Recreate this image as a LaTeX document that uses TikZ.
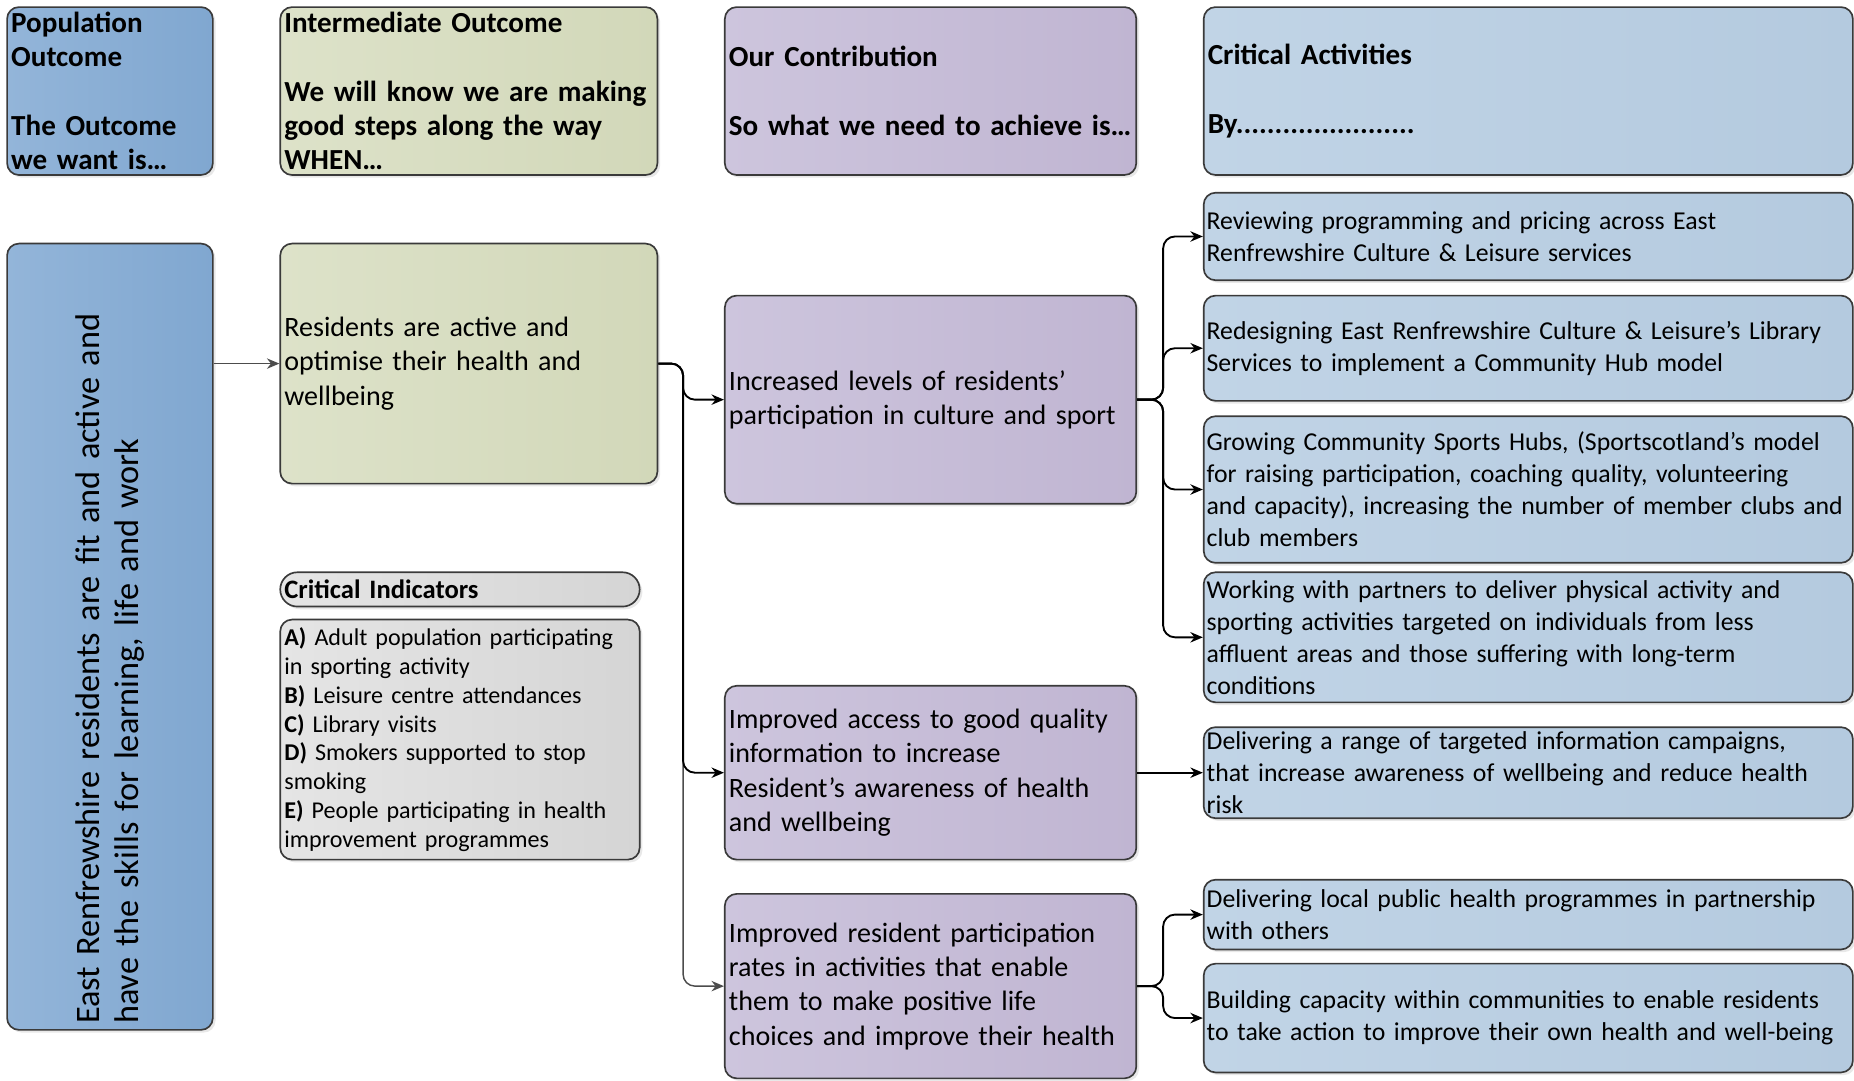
\documentclass[tikz,border=0pt]{standalone}
\usepackage{fontspec}
\setmainfont{Carlito}
\usetikzlibrary{arrows.meta,shadows}

\definecolor{popA}{HTML}{93B5D9}
\definecolor{popB}{HTML}{80A7D0}
\definecolor{intA}{HTML}{DDE2C9}
\definecolor{intB}{HTML}{D2D8B9}
\definecolor{conA}{HTML}{CDC5DD}
\definecolor{conB}{HTML}{C0B5D2}
\definecolor{actA}{HTML}{C1D4E6}
\definecolor{actB}{HTML}{B4CADF}
\definecolor{ciA}{HTML}{E5E5E5}
\definecolor{ciB}{HTML}{D5D5D5}
\definecolor{edge}{HTML}{3A3A3A}

\begin{document}
\begin{tikzpicture}[
  box/.style={draw=edge, line width=0.8pt, rounded corners=0.2cm, align=left,
    inner xsep=0.07cm, inner ysep=0pt,
    drop shadow={opacity=0.18, shadow xshift=1.3pt, shadow yshift=-1.3pt}},
  popbox/.style={box, left color=popA, right color=popB},
  intbox/.style={box, left color=intA, right color=intB},
  conbox/.style={box, left color=conA, right color=conB, text width=6.82cm},
  actbox/.style={box, left color=actA, right color=actB, inner xsep=0.05cm,
    text width=10.88cm, font=\fontsize{12.4}{15.4}\selectfont},
  cibox/.style={box, left color=ciA, right color=ciB, text width=5.94cm},
  big/.style={font=\fontsize{13.5}{16.5}\selectfont},
  hdr/.style={font=\fontsize{14}{16.5}\selectfont\bfseries, minimum height=2.84cm},
  link/.style={line width=0.9pt, rounded corners=0.2cm,
    -{Stealth[length=6pt,width=5pt]}},
  thinlink/.style={link, line width=0.7pt, black!70}
]
  \useasboundingbox (0,0) rectangle (31.36,-18.28);

  % Header row
  \node (popHead) at (1.86,-1.54) [popbox, hdr, text width=3.34cm]
    {Population\\Outcome\\[16.5pt]The Outcome\\we want is\dots};
  \node (intHead) at (7.93,-1.54) [intbox, hdr, text width=6.24cm]
    {Intermediate Outcome\\[16.5pt]We will know we are making\\good steps along the way\\WHEN\dots};
  \node (conHead) at (15.74,-1.54) [conbox, hdr]
    {Our Contribution\\[16.5pt]So what we need to achieve is\dots};
  \node (actHead) at (25.85,-1.54) [actbox, hdr, inner xsep=0.07cm, text width=10.84cm]
    {Critical Activities\\[16.5pt]By.......................};

  % Population outcome
  \node (popBox) at (1.86,-10.77) [popbox, rotate=90, text width=13.1cm,
    minimum height=3.48cm, inner xsep=0.1cm, font=\fontsize{16.5}{19}\selectfont]
    {East Renfrewshire residents are fit and active and\\have the skills for learning, life and work};

  % Intermediate outcome
  \node (resBox) at (7.93,-6.15) [intbox, big, text width=6.24cm, minimum height=4.06cm]
    {Residents are active and\\optimise their health and\\wellbeing};

  % Critical indicators
  \node (ciHead) at (7.78,-9.97) [cibox, rounded corners=0.29cm, minimum height=0.58cm,
    font=\fontsize{12.8}{14}\selectfont\bfseries] {Critical Indicators};
  \node (ciBox) at (7.78,-12.51) [cibox, minimum height=4.06cm,
    font=\fontsize{11.6}{13.9}\selectfont]
    {\textbf{A)} Adult population participating\\in sporting activity\\
     \textbf{B)} Leisure centre attendances\\\textbf{C)} Library visits\\
     \textbf{D)} Smokers supported to stop\\smoking\\
     \textbf{E)} People participating in health\\improvement programmes};

  % Our contribution
  \node (conOne) at (15.74,-6.76) [conbox, big, minimum height=3.52cm]
    {Increased levels of residents'\\participation in culture and sport};
  \node (conTwo) at (15.74,-13.07) [conbox, big, minimum height=2.94cm]
    {Improved access to good quality\\information to increase\\Resident's awareness of health\\and wellbeing};
  \node (conThree) at (15.74,-16.68) [conbox, big, minimum height=3.12cm]
    {Improved resident participation\\rates in activities that enable\\them to make positive life\\choices and improve their health};

  % Critical activities
  \node (actOne) at (25.85,-4.00) [actbox, minimum height=1.48cm]
    {Reviewing programming and pricing across East\\Renfrewshire Culture \& Leisure services};
  \node (actTwo) at (25.85,-5.89) [actbox, minimum height=1.78cm]
    {Redesigning East Renfrewshire Culture \& Leisure's Library\\Services to implement a Community Hub model};
  \node (actThree) at (25.85,-8.28) [actbox, minimum height=2.48cm]
    {Growing Community Sports Hubs, (Sportscotland's model\\for raising participation, coaching quality, volunteering\\\mbox{and capacity), increasing the number of member clubs and}\\club members};
  \node (actFour) at (25.85,-10.78) [actbox, minimum height=2.20cm]
    {Working with partners to deliver physical activity and\\sporting activities targeted on individuals from less\\affluent areas and those suffering with long-term\\conditions};
  \node (actFive) at (25.85,-13.07) [actbox, minimum height=1.54cm]
    {Delivering a range of targeted information campaigns,\\that increase awareness of wellbeing and reduce health\\risk};
  \node (actSix) at (25.85,-15.47) [actbox, minimum height=1.18cm]
    {Delivering local public health programmes in partnership\\with others};
  \node (actSeven) at (25.85,-17.22) [actbox, minimum height=1.84cm]
    {Building capacity within communities to enable residents\\to take action to improve their own health and well-being};

  % Connectors
  \draw[thinlink] (popBox.south |- resBox.west) -- (resBox.west);
  \draw[thinlink] (resBox.east) -- ++(0.42,0) |- (conThree.west);
  \draw[link] (resBox.east) -- ++(0.42,0) |- (conTwo.west);
  \draw[link] (resBox.east) -- ++(0.42,0) |- (conOne.west);

  \foreach \act in {actOne,actTwo,actThree,actFour}
    \draw[link] (conOne.east) -- ++(0.44,0) |- (\act.west);
  \draw[link] (conTwo.east) -- (actFive.west);
  \foreach \act in {actSix,actSeven}
    \draw[link] (conThree.east) -- ++(0.44,0) |- (\act.west);

\end{tikzpicture}
\end{document}
